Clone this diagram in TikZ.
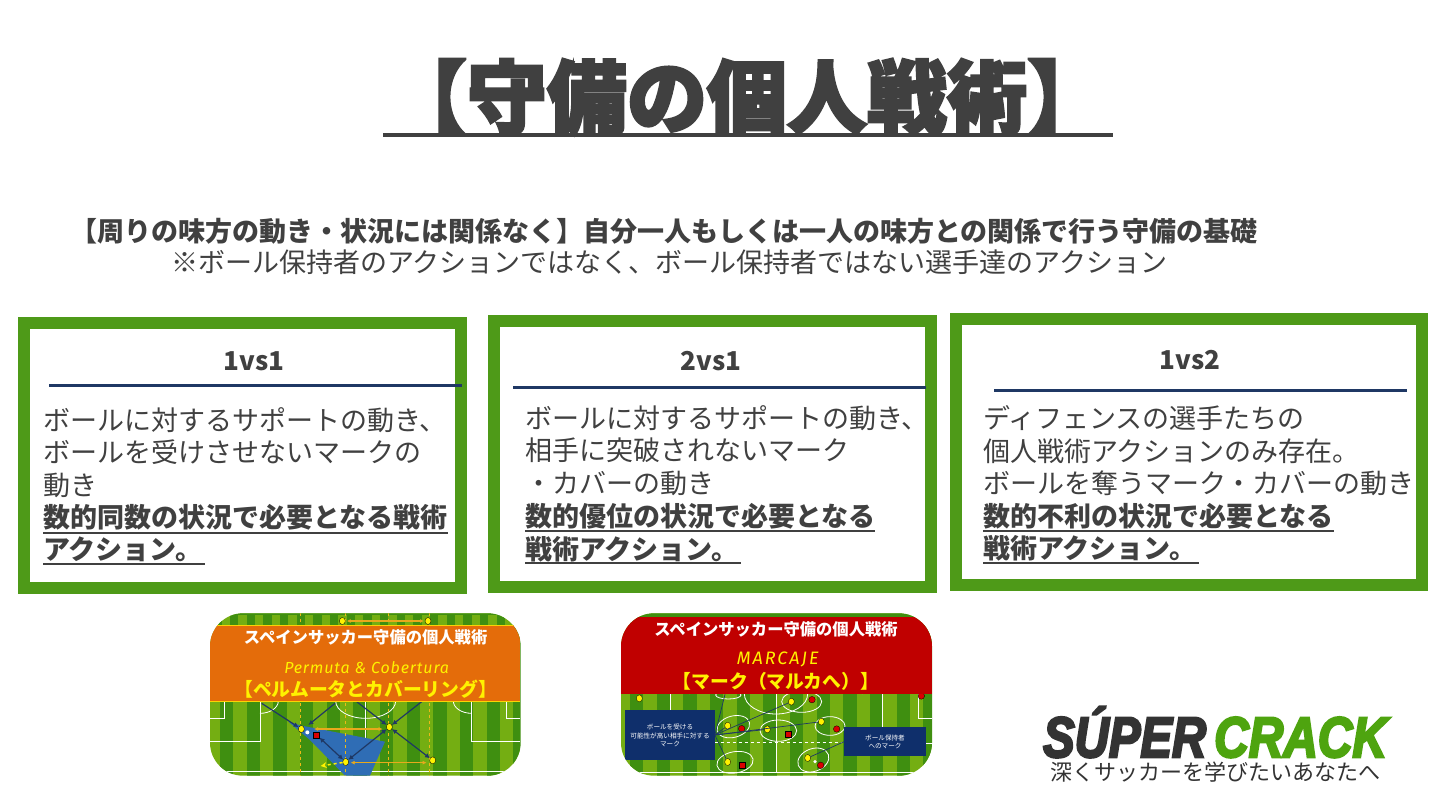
\documentclass[tikz,border=0pt]{standalone}
\usepackage{fontspec}
\usetikzlibrary{arrows.meta}
\newfontfamily\jp{Noto Sans CJK JP}
\newfontfamily\jpheavy{Noto Sans CJK JP}[BoldFeatures={FakeBold=3.2}]
\newfontfamily\logofont{Liberation Sans}[BoldItalicFeatures={FakeBold=4.5}]
\newfontfamily\latinit{Fira Sans}
\newcommand{\sz}[1]{\fontsize{#1}{#1}\selectfont}
\definecolor{ink}{HTML}{404040}
\definecolor{frame}{HTML}{4E9A18}
\definecolor{navy}{HTML}{1F3864}
\definecolor{boxnavy}{HTML}{0F2F6B}
\definecolor{grassA}{HTML}{74AE12}
\definecolor{grassB}{HTML}{3F8F10}
\definecolor{bandor}{HTML}{E46C0A}
\definecolor{bandred}{HTML}{C00000}
\definecolor{logogreen}{HTML}{4EA40F}
\definecolor{logodark}{HTML}{333333}
\definecolor{pitchblue}{HTML}{2F6DB5}
\definecolor{arrowor}{HTML}{E8A91C}
\tikzset{
  txt/.style={inner sep=0pt,text height=20pt,text depth=0pt,text=ink,font=\jp},
  lineL/.style={txt,anchor=west,font=\jp\sz{27}},
  lineB/.style={txt,anchor=west,font=\jp\bfseries\sz{27}},
  head/.style={txt,anchor=center,font=\jp\bfseries\sz{26}},
  frmbox/.style={draw=frame,line width=12pt,fill=white},
  rulel/.style={draw=navy,line width=3pt},
  underl/.style={draw=ink,line width=2pt},
  wline/.style={draw=white,line width=.8pt},
  player/.style={ellipse,draw=black,line width=.3pt,fill=yellow,inner sep=0pt,minimum width=6pt,minimum height=7pt},
  redp/.style={circle,draw=black,line width=.3pt,fill=red!85!black,inner sep=0pt,minimum size=6.5pt},
  reds/.style={rectangle,draw=black,line width=.3pt,fill=red!85!black,inner sep=0pt,minimum size=6pt},
  navarrow/.style={draw=navy,line width=1.2pt,-{Latex[length=5pt,width=5pt]}},
  navboth/.style={draw=navy,line width=1.2pt,{Latex[length=5pt,width=5pt]}-{Latex[length=5pt,width=5pt]}},
  orboth/.style={draw=arrowor,line width=1.2pt,{Latex[length=4pt,width=4pt]}-{Latex[length=4pt,width=4pt]}},
  ordash/.style={draw=arrowor!80!yellow,line width=.7pt,dashed},
  thumbtitle/.style={inner sep=0pt,text=white,font=\jp\bfseries\sz{16.3}},
  thumbsub/.style={inner sep=0pt,text=yellow,font=\jp\bfseries\sz{18.8}},
  navytxt/.style={inner sep=0pt,text=white,font=\jp\sz{6.6}},
  ell/.style={draw=white,line width=.8pt},
  markline/.style={draw=navy,line width=.7pt},
}
\usetikzlibrary{shapes.geometric}
\begin{document}
\begin{tikzpicture}[x=1pt,y=-1pt]
\useasboundingbox (0,0) rectangle (1440,810);
\fill[white] (0,0) rectangle (1440,810);

% Title
\node[inner sep=0pt,text=ink,font=\jpheavy\bfseries\sz{80}] (title) at (747,97) {【守備の個人戦術】};
\coordinate (tl) at (383,135);
\coordinate (tr) at (1113,135);
\draw[draw=ink,line width=4pt] (tl) -- (tr);

% Subtitle
\node[txt,anchor=west,font=\jp\bfseries\sz{27}] (sub1) at (70,232) {【周りの味方の動き・状況には関係なく】自分一人もしくは一人の味方との関係で行う守備の基礎};
\node[txt,anchor=west,font=\jp\sz{27}] (sub2) at (171,263) {※ボール保持者のアクションではなく、ボール保持者ではない選手達のアクション};

% Boxes
\draw[frmbox] (24,323) rectangle (461,588);
\draw[frmbox] (494,321) rectangle (931,587);
\draw[frmbox] (956,319) rectangle (1422,585);

% Box 1
\node[head] (h1) at (254,360) {1vs1};
\coordinate (r1a) at (49,385); \coordinate (r1b) at (462,385);
\draw[rulel] (r1a) -- (r1b);
\node[lineL] (a1) at (43,420) {ボールに対するサポートの動き、};
\node[lineL] (a2) at (43,452) {ボールを受けさせないマークの};
\node[lineL] (a3) at (43,485) {動き};
\node[lineB] (a4) at (43,517) {数的同数の状況で必要となる戦術};
\node[lineB] (a5) at (43,549) {アクション。};
\coordinate (u1a) at (43,533); \coordinate (u1b) at (448,533);
\coordinate (u2a) at (43,564); \coordinate (u2b) at (205,564);
\draw[underl] (u1a) -- (u1b);
\draw[underl] (u2a) -- (u2b);

% Box 2
\node[head] (h2) at (711,360) {2vs1};
\coordinate (r2a) at (513,387); \coordinate (r2b) at (926,387);
\draw[rulel] (r2a) -- (r2b);
\node[lineL] (b1) at (525,418) {ボールに対するサポートの動き、};
\node[lineL] (b2) at (525,450) {相手に突破されないマーク};
\node[lineL] (b3) at (525,483) {・カバーの動き};
\node[lineB] (b4) at (525,516) {数的優位の状況で必要となる};
\node[lineB] (b5) at (525,549) {戦術アクション。};
\coordinate (u3a) at (525,531); \coordinate (u3b) at (875,531);
\coordinate (u4a) at (525,563); \coordinate (u4b) at (741,563);
\draw[underl] (u3a) -- (u3b);
\draw[underl] (u4a) -- (u4b);

% Box 3
\node[head] (h3) at (1190,359) {1vs2};
\coordinate (r3a) at (994,390); \coordinate (r3b) at (1407,390);
\draw[rulel] (r3a) -- (r3b);
\node[lineL] (c1) at (983,418) {ディフェンスの選手たちの};
\node[lineL] (c2) at (983,451) {個人戦術アクションのみ存在。};
\node[lineL] (c3) at (983,483) {ボールを奪うマーク・カバーの動き};
\node[lineB] (c4) at (983,516) {数的不利の状況で必要となる};
\node[lineB] (c5) at (983,548) {戦術アクション。};
\coordinate (u5a) at (983,531); \coordinate (u5b) at (1334,531);
\coordinate (u6a) at (983,563); \coordinate (u6b) at (1199,563);
\draw[underl] (u5a) -- (u5b);
\draw[underl] (u6a) -- (u6b);

% Thumbnail 1 (coordinates in 3x crop units)
\begin{scope}[shift={(200,600)},x=.33333pt,y=-.33333pt]
  \begin{scope}
    \clip[rounded corners=33pt] (30,40) rectangle (962,527);
    \fill[grassA] (30,40) rectangle (962,527);
    \foreach \i in {0,...,11} \fill[grassB] ({60+\i*80},75) rectangle ({100+\i*80},527);
    \foreach \i in {0,...,18} \fill[grassB] ({40+\i*50},45) rectangle ({65+\i*50},75);
    \fill[grassB] (30,40) rectangle (962,45);
    \draw[wline] (30,515) -- (962,515);
    \draw[wline] (497,303) -- (497,515);
    \draw[wline] (407,303) arc[start angle=180,end angle=360,x radius=90,y radius=-52];
    \draw[wline] (30,425) -- (180,425) -- (180,303);
    \draw[wline] (30,355) -- (72,355) -- (72,303);
    \draw[wline] (815,303) -- (815,425) -- (962,425);
    \draw[wline] (920,303) -- (920,355) -- (962,355);
    \draw[wline] (180,340) arc[start angle=-90,end angle=0,x radius=55,y radius=-37];
    \draw[wline] (815,340) arc[start angle=-90,end angle=-180,x radius=55,y radius=-37];
    \fill[pitchblue] (265,365) -- (300,376) -- (555,425) -- (510,527) -- (435,527) -- (330,420) -- cycle;
    \foreach \xx in {300,437,565,688} \draw[ordash] (\xx,40) -- (\xx,527);
    \node[player] (p1) at (304,387) {};
    \node[player] (p2) at (568,381) {};
    \node[player] (p3) at (437,486) {};
    \node[player] (p4) at (698,481) {};
    \node[player] (p5) at (427,63) {};
    \node[player] (p6) at (684,63) {};
    \node[reds] (e1) at (349,404) {};
    \node[circle,fill=white,inner sep=0pt,minimum size=4pt] (ball) at (322,397) {};
    \coordinate (s1) at (185,310); \coordinate (s2) at (405,310);
    \coordinate (s3) at (470,305); \coordinate (s4) at (665,305);
    \coordinate (d1) at (362,498);
    \draw[navarrow] (s1) -- (p1);
    \draw[navarrow] (s2) -- (325,375);
    \draw[navarrow] (s3) -- (p2);
    \draw[navarrow] (s4) -- (p2);
    \draw[navboth] (p4) -- (p2);
    \draw[navboth] (p2) -- (p3);
    \draw[navboth] (e1) -- (p3);
    \draw[orboth] (342,387) -- (548,387);
    \draw[orboth] (452,488) -- (680,488);
    \draw[orboth] (440,63) -- (672,63);
    \draw[draw=yellow,line width=1.5pt,dashed,-{Stealth[length=6pt,width=6pt]}] (p3) -- (d1);
    \fill[bandor] (30,75) rectangle (962,303);
    \draw[draw=yellow!70!orange,line width=.5pt] (30,75) -- (962,75) (30,303) -- (962,303);
  \end{scope}
  \node[thumbtitle] (t1a) at (497,112) {スペインサッカー守備の個人戦術};
  \node[inner sep=0pt,text=yellow,font=\latinit\itshape\sz{16}\addfontfeature{LetterSpace=5.3}] (t1b) at (500,202) {Permuta \& Cobertura};
  \node[thumbsub] (t1c) at (497,268) {【ペルムータとカバーリング】};
\end{scope}

% Thumbnail 2
\begin{scope}[shift={(610,600)},x=.33333pt,y=-.33333pt]
  \begin{scope}
    \clip[rounded corners=33pt] (33,40) rectangle (966,527);
    \fill[grassA] (33,40) rectangle (966,527);
    \foreach \i in {0,...,11} \fill[grassB] ({60+\i*80},52) rectangle ({100+\i*80},527);
    \fill[grassB] (33,40) rectangle (966,52);
    \draw[wline] (33,517) -- (966,517);
    \draw[wline] (498,282) -- (498,517);
    \draw[wline] (403,282) arc[start angle=180,end angle=360,x radius=95,y radius=-60];
    \draw[wline] (180,282) -- (180,330);
    \draw[wline] (240,282) arc[start angle=0,end angle=60,x radius=40,y radius=-45];
    \draw[wline] (816,282) -- (816,430) -- (966,430);
    \draw[wline] (924,282) -- (924,355) -- (966,355);
    \draw[wline] (756,282) arc[start angle=180,end angle=120,x radius=60,y radius=-45];
    \draw[draw=white,line width=.8pt,dashed] (314,428) -- (700,428);
    \draw[ell,rotate around={15:(370,380)}] (370,380) ellipse[x radius=50,y radius=32];
    \draw[ell,rotate around={10:(375,487)}] (375,487) ellipse[x radius=55,y radius=32];
    \draw[ell] (505,392) ellipse[x radius=55,y radius=32];
    \draw[ell] (660,378) ellipse[x radius=45,y radius=28];
    \draw[ell] (575,305) ellipse[x radius=60,y radius=32];
    \draw[ell,rotate around={20:(610,480)}] (610,480) ellipse[x radius=48,y radius=34];
    \draw[ell] (355,285) ellipse[x radius=38,y radius=12];
    \node[player] (q1) at (353,377) {};
    \node[player] (q2) at (472,388) {};
    \node[player] (q3) at (544,305) {};
    \node[player] (q4) at (634,365) {};
    \node[player] (q5) at (353,486) {};
    \node[player] (q6) at (593,474) {};
    \node[player] (q7) at (88,295) {};
    \node[redp] (f1) at (395,386) {};
    \node[reds] (f2) at (533,403) {};
    \node[redp] (f3) at (606,299) {};
    \node[redp] (f4) at (680,387) {};
    \node[reds] (f5) at (395,494) {};
    \node[redp] (f6) at (632,496) {};
    \node[redp] (f7) at (934,288) {};
    \node[circle,fill=white,inner sep=0pt,minimum size=3.5pt] (ball2) at (615,485) {};
    \coordinate (m0) at (345,283);
    \node[fill=boxnavy,minimum width=89.3pt,minimum height=50pt,inner sep=0pt] (nb1) at (180,405) {};
    \node[fill=boxnavy,minimum width=81.7pt,minimum height=28.7pt,inner sep=0pt] (nb2) at (825.5,425) {};
    \draw[markline] (nb1.east) -- (q1);
    \draw[markline] (nb1.east) -- (q2);
    \draw[markline] (nb1.east) -- (q3);
    \draw[markline] (nb1.east) -- (q4);
    \draw[markline] (nb1.east) -- (q5);
    \draw[markline] (nb1.east) -- (m0);
    \draw[markline] (nb2.west) -- (q6);
    \fill[bandred] (33,52) rectangle (966,282);
  \end{scope}
  \node[thumbtitle] (t2a) at (498,88) {スペインサッカー守備の個人戦術};
  \node[inner sep=0pt,text=yellow,font=\latinit\itshape\sz{18}\addfontfeature{LetterSpace=11}] (t2b) at (503,177) {MARCAJE};
  \node[thumbsub] (t2c) at (498,243) {【マーク（マルカへ）】};
  \node[navytxt] (n1a) at (180,380) {ボールを受ける};
  \node[navytxt] (n1b) at (180,407) {可能性が高い相手に対する};
  \node[navytxt] (n1c) at (180,431) {マーク};
  \node[navytxt] (n2a) at (825,413) {ボール保持者};
  \node[navytxt] (n2b) at (825,438) {へのマーク};
\end{scope}

% Logo
\node[inner sep=0pt,anchor=base west,text=logodark,font=\logofont\bfseries\itshape\sz{57},xscale=.83] (lg1) at (1043,757) {SÚPER};
\node[inner sep=0pt,anchor=base west,text=logogreen,font=\logofont\bfseries\itshape\sz{57},xscale=.84] (lg2) at (1214,757) {CRACK};
\node[inner sep=0pt,anchor=base,text=logodark,font=\jp\sz{22}] (lg3) at (1215,780) {\raisebox{0pt}[.7em][0pt]{深くサッカーを学びたいあなたへ}};
\end{tikzpicture}
\end{document}
